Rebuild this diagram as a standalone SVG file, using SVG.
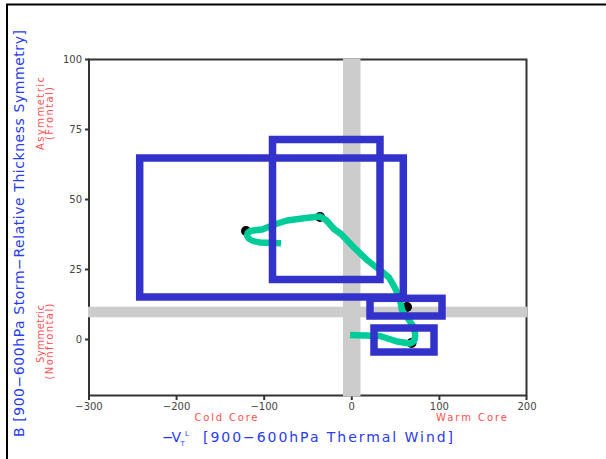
<svg xmlns="http://www.w3.org/2000/svg" width="606" height="459" viewBox="0 0 606 459">
<style>
.tick{font-family:"DejaVu Sans",sans-serif;font-size:10px;fill:#444}
.red{font-family:"DejaVu Sans",sans-serif;font-size:10px;fill:#ff5050}
.blue{font-family:"DejaVu Sans",sans-serif;font-size:14px;fill:#2a3cf0}
.sm{font-family:"DejaVu Sans",sans-serif;font-size:7px;fill:#2a3cf0}
.box{fill:none;stroke:#3333cc;stroke-width:7.5}
.band{fill:#cccccc}
.ax{stroke:#333;stroke-width:2;fill:none}
.pt{fill:#000}
</style>
<rect width="606" height="459" fill="#fff"/>
<path d="M7 459 V4.5 H606" fill="none" stroke="#000" stroke-width="2"/>
<g id="frame">
<rect class="ax" x="89" y="59.5" width="437.5" height="336"/>
<path class="ax" stroke-width="1.2" d="M85 59.5H89M85 129.5H89M85 199.5H89M85 269.5H89M85 339.5H89M89 396V400M176.6 396V400M264.2 396V400M351.8 396V400M439.4 396V400M526.5 396V400"/>
</g>
<g id="ticklabels">
<text class="tick" x="82" y="63" text-anchor="end">100</text>
<text class="tick" x="82" y="133" text-anchor="end">75</text>
<text class="tick" x="82" y="203" text-anchor="end">50</text>
<text class="tick" x="82" y="273" text-anchor="end">25</text>
<text class="tick" x="82" y="343" text-anchor="end">0</text>
<text class="tick" x="89" y="410" text-anchor="middle">−300</text>
<text class="tick" x="176.6" y="410" text-anchor="middle">−200</text>
<text class="tick" x="264.2" y="410" text-anchor="middle">−100</text>
<text class="tick" x="351.8" y="410" text-anchor="middle">0</text>
<text class="tick" x="439.4" y="410" text-anchor="middle">100</text>
<text class="tick" x="527" y="410" text-anchor="middle">200</text>
</g>
<g id="bands">
<rect class="band" x="343" y="58.5" width="17.5" height="338"/>
<rect class="band" x="88" y="306.7" width="439.5" height="10.6"/>
</g>
<g id="track">
<circle class="pt" cx="246" cy="231" r="5"/>
<circle class="pt" cx="320" cy="217" r="5"/>
<circle class="pt" cx="407" cy="307" r="5"/>
<circle class="pt" cx="411.5" cy="343" r="5"/>
<path d="M281 243.3 L260 242.5 Q249 241 247.5 236.5 Q246 231.5 253 230.5 L262 229.5 L276 224 L287 220.5 L306 218 L320 216.5 L326 220 L334 229 L341 234 L353 246.5 L367 260 L380 270 L389 277.5 L395 288 L400 300 L402 310 L408 318.5 L413 326 L415 333 Q416 342 410 343.5 L397 341.5 L380 336 L350 335" fill="none" stroke="#00cc99" stroke-width="6.5" stroke-linejoin="round"/>
</g>
<g id="boxes">
<rect id="box1" class="box" x="139.7" y="158" width="263.6" height="139"/>
<rect id="box2" class="box" x="272.5" y="139.5" width="107.5" height="140"/>
<rect id="box3" class="box" x="370" y="298.3" width="72" height="17.7"/>
<rect id="box4" class="box" x="374" y="328" width="60" height="24"/>
</g>
<g id="labels">
<text class="red" x="226" y="421" text-anchor="middle" textLength="63">Cold Core</text>
<text class="red" x="471.5" y="421" text-anchor="middle" textLength="71">Warm Core</text>
<text class="blue" x="162" y="442" textLength="19">−V</text>
<text class="sm" x="180.5" y="446">T</text>
<text class="sm" x="185" y="436">L</text>
<text class="blue" x="203" y="442" textLength="250">[900−600hPa Thermal Wind]</text>
<text class="blue" transform="translate(23.5,233.5) rotate(-90)" text-anchor="middle" textLength="407">B [900−600hPa Storm−Relative Thickness Symmetry]</text>
<text class="red" transform="translate(43.5,113.5) rotate(-90)" text-anchor="middle" textLength="73">Asymmetric</text>
<text class="red" transform="translate(52.5,113.5) rotate(-90)" text-anchor="middle" textLength="53">(Frontal)</text>
<text class="red" transform="translate(43.5,334) rotate(-90)" text-anchor="middle" textLength="58">Symmetric</text>
<text class="red" transform="translate(52.5,341.5) rotate(-90)" text-anchor="middle" textLength="76">(Nonfrontal)</text>
</g>
</svg>
